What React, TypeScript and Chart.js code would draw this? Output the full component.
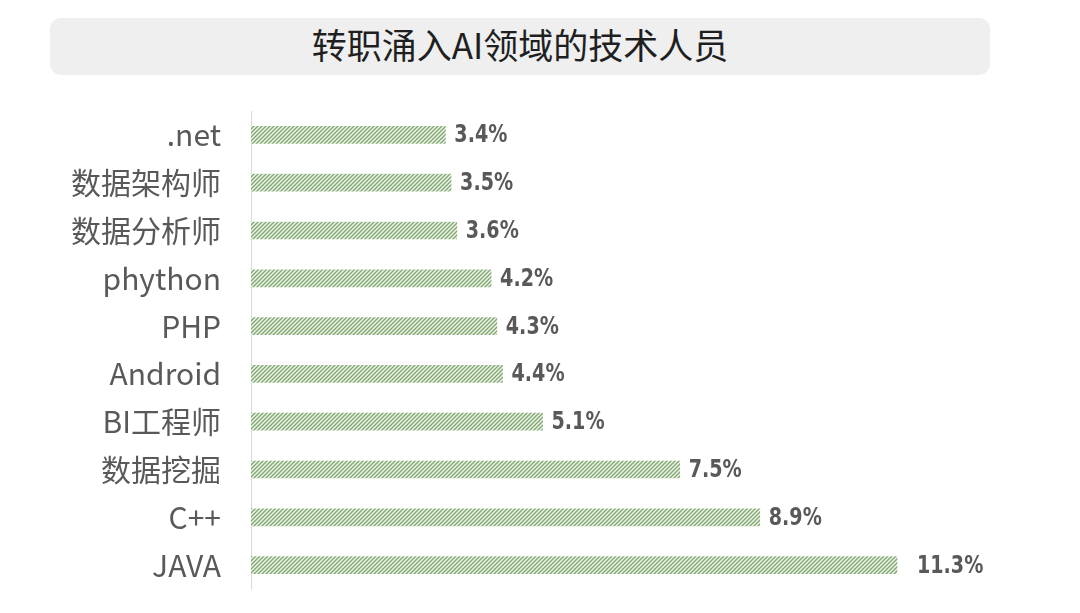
import React, { useEffect, useRef } from "react";
import { Chart, registerables } from "chart.js";

Chart.register(...registerables);

const categories = [".net", "数据架构师", "数据分析师", "phython", "PHP", "Android", "BI工程师", "数据挖掘", "C++", "JAVA"];
const values = [3.4, 3.5, 3.6, 4.2, 4.3, 4.4, 5.1, 7.5, 8.9, 11.3];
const valueLabels = ["3.4%", "3.5%", "3.6%", "4.2%", "4.3%", "4.4%", "5.1%", "7.5%", "8.9%", "11.3%"];
const titleText = "转职涌入AI领域的技术人员";

function makePattern(): CanvasPattern | string {
  const c = document.createElement("canvas");
  c.width = 4;
  c.height = 4;
  const ctx = c.getContext("2d");
  if (!ctx) return "#8fb07f";
  ctx.fillStyle = "#eef3ea";
  ctx.fillRect(0, 0, 4, 4);
  ctx.strokeStyle = "#7ea66e";
  ctx.lineWidth = 1.3;
  ctx.beginPath();
  ctx.moveTo(-1, 5);
  ctx.lineTo(5, -1);
  ctx.moveTo(-1, 1);
  ctx.lineTo(1, -1);
  ctx.moveTo(3, 5);
  ctx.lineTo(5, 3);
  ctx.stroke();
  return ctx.createPattern(c, "repeat") || "#8fb07f";
}

const valueLabelPlugin = {
  id: "valueLabels",
  afterDatasetsDraw(chart: any) {
    const ctx = chart.ctx;
    const meta = chart.getDatasetMeta(0);
    const sx = 0.85;
    const last = meta.data.length - 1;
    meta.data.forEach((bar: any, i: number) => {
      ctx.save();
      ctx.font = "bold 25px 'Liberation Sans Narrow', 'DejaVu Sans Condensed', sans-serif";
      ctx.fillStyle = "#595959";
      ctx.textAlign = "left";
      ctx.textBaseline = "middle";
      ctx.translate(bar.x + (i === last ? 20 : 9), bar.y + 1);
      ctx.scale(sx, 1);
      ctx.fillText(valueLabels[i], 0, 0);
      ctx.restore();
    });
  },
};

export default function App() {
  const ref = useRef<HTMLCanvasElement | null>(null);
  useEffect(() => {
    if (!ref.current) return;
    const chart = new Chart(ref.current, {
      type: "bar",
      data: {
        labels: categories,
        datasets: [
          {
            data: values,
            backgroundColor: makePattern() as any,
            borderWidth: 0,
            barThickness: 17,
          },
        ],
      },
      options: {
        indexAxis: "y",
        animation: false,
        responsive: false,
        maintainAspectRatio: false,
        layout: { padding: { top: 111, bottom: 24, left: 0, right: 143 } },
        plugins: { legend: { display: false }, tooltip: { enabled: false } },
        scales: {
          x: { display: false, min: 0, max: 12 },
          y: {
            afterFit(scale: any) {
              scale.width = 251;
              scale.paddingTop = 0;
              scale.paddingBottom = 0;
            },
            grid: { display: false, drawTicks: false },
            border: { display: true, color: "#d9d9d9", width: 1 },
            ticks: {
              padding: 30,
              color: "#595959",
              font: { size: 30, family: "'Noto Sans CJK SC', 'Noto Sans', sans-serif" },
            },
          },
        },
      },
      plugins: [valueLabelPlugin],
    });
    return () => chart.destroy();
  }, []);

  return (
    <div style={{ position: "fixed", left: 0, top: 0, width: 1080, height: 613, background: "#fff" }}>
      <div
        style={{
          position: "absolute",
          left: 50,
          top: 18,
          width: 940,
          height: 57,
          background: "#efefef",
          borderRadius: 11,
          display: "flex",
          alignItems: "center",
          justifyContent: "center",
          fontFamily: "'Noto Sans CJK SC', sans-serif",
          fontSize: 35,
          lineHeight: "57px",
          color: "#1f1f1f",
        }}
      >
        <span style={{ position: "relative", top: -3 }}>{titleText}</span>
      </div>
      <canvas ref={ref} width={1080} height={613} style={{ position: "absolute", left: 0, top: 0 }} />
    </div>
  );
}
